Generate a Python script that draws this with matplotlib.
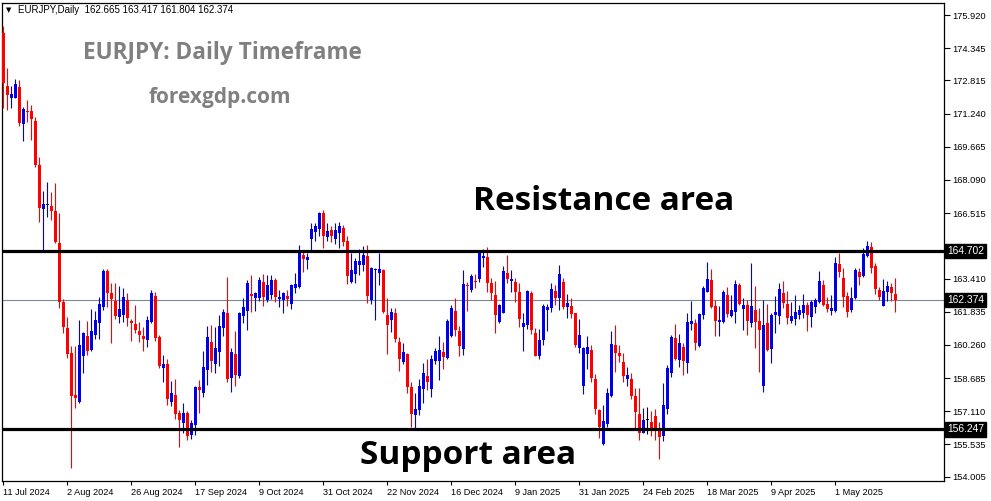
import matplotlib
matplotlib.use("Agg")
import matplotlib.pyplot as plt
import matplotlib.transforms as mtransforms

# EURJPY daily candles (open, high, low, close)
opens = [175.07, 172.55, 171.99, 171.99, 172.49, 170.75, 171.38, 171.38, 170.89, 168.79,
         166.73, 166.90, 166.86, 166.62, 165.08, 162.31, 161.05, 159.89, 157.88, 157.57,
         159.74, 160.69, 160.02, 160.73, 161.31, 162.08, 163.77, 162.74, 162.36, 161.60,
         161.68, 162.40, 161.41, 161.25, 160.92, 160.69, 160.50, 161.36, 162.58, 160.65,
         159.18, 159.36, 157.57, 157.88, 157.02, 156.57, 157.02, 155.99, 156.46, 158.25,
         157.99, 159.07, 160.41, 159.36, 159.94, 161.08, 161.76, 158.68, 159.83, 158.80,
         161.63, 161.87, 162.68, 162.50, 162.47, 163.26, 162.40, 162.63, 163.34, 162.43,
         162.37, 162.59, 162.19, 162.96, 162.99, 164.53, 164.29, 165.29, 165.64, 165.75,
         166.51, 165.40, 165.72, 165.29, 165.56, 165.83, 165.19, 163.26, 163.63, 164.05,
         164.05, 164.48, 162.39, 163.83, 163.69, 163.82, 161.68, 161.44, 161.79, 160.41,
         159.47, 159.83, 158.28, 156.93, 157.17, 158.16, 158.79, 158.17, 159.51, 159.51,
         159.94, 159.63, 160.69, 161.87, 160.94, 160.05, 163.10, 162.87, 163.31, 163.38,
         164.37, 164.42, 163.22, 162.63, 161.36, 161.79, 163.69, 163.29, 163.26, 162.79,
         161.13, 161.21, 162.74, 160.84, 159.74, 160.50, 161.92, 162.03, 162.82, 162.47,
         163.26, 162.08, 162.11, 161.79, 160.13, 158.31, 159.83, 160.02, 158.64, 157.17,
         155.56, 156.51, 157.83, 160.26, 159.89, 159.47, 158.64, 158.64, 157.84, 156.98,
         156.09, 156.71, 156.59, 156.90, 156.30, 155.95, 157.20, 158.94, 160.61, 159.55,
         160.18, 159.42, 161.25, 161.29, 160.21, 161.68, 162.79, 163.34, 162.11, 161.36,
         161.36, 162.63, 161.63, 161.84, 163.10, 161.97, 162.16, 161.32, 161.92, 161.41,
         158.33, 161.29, 160.05, 161.68, 161.65, 162.74, 162.20, 161.41, 161.49, 161.68,
         161.79, 162.16, 161.60, 162.08, 162.31, 163.10, 162.20, 161.89, 161.89, 164.10,
         163.42, 162.59, 161.92, 162.47, 163.74, 163.53, 164.48, 164.89, 164.01, 162.87,
         162.12, 162.76, 163.02, 162.665]
highs = [175.40, 173.40, 172.55, 172.87, 172.84, 171.54, 171.89, 171.65, 171.06, 169.19,
         167.57, 167.98, 167.52, 167.95, 166.51, 162.43, 161.60, 160.21, 160.21, 161.45,
         160.89, 161.41, 161.97, 161.89, 162.55, 163.87, 163.87, 163.21, 163.21, 163.06,
         162.95, 162.71, 161.51, 162.16, 161.33, 161.13, 161.63, 162.87, 162.79, 160.72,
         159.78, 159.59, 158.56, 158.63, 157.17, 157.49, 157.13, 156.70, 158.31, 158.60,
         159.99, 161.16, 161.21, 161.10, 161.68, 161.95, 163.47, 160.10, 160.92, 161.84,
         162.48, 163.34, 163.58, 162.79, 163.47, 163.63, 163.58, 163.58, 163.42, 162.87,
         162.79, 162.87, 163.15, 163.66, 165.00, 164.73, 164.64, 166.06, 166.06, 166.59,
         166.67, 166.06, 165.91, 166.06, 166.11, 165.95, 165.43, 164.64, 164.37, 164.80,
         164.96, 165.00, 163.98, 163.90, 164.64, 163.85, 162.48, 162.00, 162.00, 160.65,
         160.34, 159.89, 158.52, 157.99, 158.64, 159.42, 159.59, 159.78, 160.10, 160.68,
         160.41, 161.48, 162.16, 162.48, 161.16, 163.82, 163.26, 163.63, 163.63, 164.73,
         164.80, 164.92, 163.42, 163.29, 162.20, 164.01, 164.53, 163.82, 163.45, 163.21,
         161.79, 162.87, 162.84, 161.08, 161.00, 162.20, 162.20, 163.21, 163.10, 164.05,
         163.42, 162.68, 162.48, 161.79, 161.49, 160.18, 160.68, 160.26, 158.88, 157.21,
         157.41, 158.20, 160.94, 161.21, 160.26, 159.86, 159.20, 158.94, 158.20, 158.20,
         157.25, 157.33, 157.14, 157.20, 156.60, 158.44, 159.30, 160.73, 161.25, 160.78,
         160.34, 161.76, 162.36, 161.48, 161.79, 163.06, 164.18, 163.85, 162.39, 162.11,
         162.87, 163.02, 162.63, 163.34, 163.21, 162.48, 162.39, 164.17, 163.06, 162.00,
         162.39, 162.20, 161.76, 162.58, 163.19, 163.29, 162.82, 162.31, 162.63, 162.16,
         162.68, 162.31, 162.39, 162.50, 163.77, 163.34, 162.55, 162.63, 164.45, 164.64,
         163.90, 162.79, 162.99, 163.90, 163.90, 164.85, 165.19, 165.16, 164.13, 163.02,
         163.37, 163.29, 163.19, 163.417]
lows = [171.51, 171.41, 171.49, 171.99, 170.65, 169.95, 170.85, 169.99, 168.72, 166.11,
        164.77, 166.32, 166.19, 165.11, 162.00, 160.84, 159.66, 154.41, 157.28, 157.52,
        158.94, 159.78, 159.97, 160.56, 160.54, 161.92, 162.08, 160.37, 161.48, 161.32,
        161.36, 161.16, 160.46, 160.84, 160.42, 159.99, 160.15, 161.29, 160.46, 159.18,
        158.52, 157.41, 157.38, 156.73, 155.43, 156.10, 155.75, 155.78, 155.99, 157.02,
        157.78, 158.36, 158.99, 158.94, 159.26, 160.70, 158.52, 158.04, 158.33, 158.68,
        161.32, 160.97, 161.84, 161.89, 162.35, 162.11, 162.32, 162.45, 162.31, 162.08,
        161.79, 162.11, 161.95, 162.71, 162.95, 163.74, 163.87, 164.73, 165.21, 165.43,
        164.85, 165.21, 165.16, 165.04, 164.88, 164.97, 163.15, 163.21, 163.21, 163.58,
        163.79, 162.26, 162.20, 161.44, 163.10, 161.79, 159.83, 160.89, 160.41, 159.04,
        159.36, 157.99, 156.35, 156.30, 156.93, 157.52, 158.12, 157.80, 159.34, 158.60,
        159.10, 159.60, 160.65, 160.69, 159.74, 159.78, 161.87, 162.79, 162.95, 163.23,
        163.95, 162.76, 162.39, 160.84, 161.29, 161.76, 163.19, 162.79, 162.31, 161.13,
        159.99, 161.00, 160.76, 159.71, 159.60, 160.26, 160.92, 161.84, 162.16, 161.92,
        161.95, 161.52, 161.52, 160.15, 159.89, 157.93, 159.10, 158.52, 156.98, 155.83,
        155.51, 156.38, 157.80, 158.99, 159.47, 158.52, 158.31, 157.68, 156.22, 155.75,
        156.07, 156.03, 155.94, 155.75, 154.85, 155.70, 157.00, 158.72, 159.55, 159.23,
        158.83, 158.94, 160.97, 160.02, 160.15, 161.48, 162.79, 162.03, 160.68, 160.68,
        161.32, 161.60, 161.57, 161.32, 162.15, 160.97, 160.73, 161.10, 160.10, 158.99,
        158.04, 159.99, 159.42, 160.84, 161.25, 162.03, 161.25, 161.32, 161.21, 161.47,
        161.52, 160.92, 161.10, 161.79, 162.27, 162.11, 161.84, 161.68, 161.84, 163.47,
        162.08, 161.57, 161.84, 162.43, 163.10, 163.50, 164.45, 163.69, 162.68, 162.39,
        162.11, 162.36, 162.36, 161.804]
closes = [172.69, 172.13, 172.18, 172.65, 170.81, 171.45, 171.32, 170.98, 168.79, 166.77,
          166.95, 166.95, 166.63, 165.16, 162.31, 161.13, 159.82, 157.85, 157.76, 160.26,
          160.84, 159.99, 160.94, 161.44, 162.20, 163.77, 162.74, 162.44, 161.63, 161.97,
          162.52, 161.56, 161.29, 160.97, 160.73, 160.53, 161.44, 162.71, 160.60, 159.26,
          159.36, 157.70, 157.96, 156.97, 156.70, 157.05, 155.94, 156.57, 158.25, 158.12,
          159.23, 160.65, 159.50, 160.13, 161.16, 161.84, 158.64, 159.91, 158.83, 161.76,
          162.05, 163.19, 162.59, 162.71, 163.34, 162.55, 163.10, 163.34, 162.52, 162.52,
          162.71, 162.45, 163.10, 163.15, 164.69, 164.33, 164.45, 165.76, 165.91, 166.51,
          165.43, 165.67, 165.43, 165.72, 165.91, 165.13, 163.53, 163.82, 164.26, 164.26,
          164.53, 162.59, 163.93, 163.87, 163.87, 161.84, 161.21, 161.84, 160.54, 159.59,
          159.91, 158.28, 156.98, 157.22, 158.31, 158.91, 158.52, 159.59, 159.98, 160.02,
          159.67, 161.41, 161.99, 160.97, 160.21, 163.15, 163.06, 163.53, 163.26, 164.64,
          164.48, 163.22, 162.74, 161.68, 162.16, 163.77, 163.39, 163.37, 162.79, 161.49,
          161.29, 162.84, 160.97, 159.74, 160.50, 162.11, 162.08, 162.90, 162.50, 163.63,
          162.08, 162.24, 161.73, 160.26, 160.73, 160.10, 160.18, 158.68, 157.22, 156.38,
          156.65, 157.97, 160.30, 159.89, 159.74, 158.79, 158.83, 157.85, 157.09, 156.09,
          156.70, 156.71, 156.22, 156.20, 155.90, 157.40, 159.18, 160.65, 159.58, 160.34,
          159.51, 161.36, 161.41, 160.37, 161.73, 162.95, 163.37, 162.08, 161.41, 161.44,
          162.79, 161.73, 161.92, 163.15, 162.20, 162.16, 161.41, 162.11, 161.37, 160.97,
          161.21, 160.02, 161.68, 161.84, 162.90, 162.27, 161.56, 161.63, 161.84, 161.92,
          162.16, 161.68, 162.31, 162.39, 163.31, 162.16, 161.95, 161.99, 164.17, 163.74,
          162.55, 161.84, 162.48, 163.82, 163.50, 164.58, 164.96, 163.93, 162.90, 162.55,
          162.82, 163.06, 162.74, 162.374]

# date labels every 16 bars
date_labels = ["11 Jul 2024", "2 Aug 2024", "26 Aug 2024", "17 Sep 2024", "9 Oct 2024",
               "31 Oct 2024", "22 Nov 2024", "16 Dec 2024", "9 Jan 2025", "31 Jan 2025",
               "24 Feb 2025", "18 Mar 2025", "9 Apr 2025", "1 May 2025"]
# 164.940 sits under the 164.702 tag in the original, so only its tick is kept
price_ticks = [175.920, 174.345, 172.815, 171.240, 169.665, 168.090, 166.515, 164.940,
               163.410, 161.835, 160.260, 158.685, 157.110, 155.535, 154.005]
hidden_tick = 164.940

resistance = 164.702
support = 156.247
bid = 162.374

W, H = 991, 501
fig = plt.figure(figsize=(W / 100, H / 100), dpi=100)
ax = fig.add_axes([2 / W, 20 / H, 942 / W, 478 / H])

n = len(opens)
xs = list(range(n))
up_col = "#0000e6"
dn_col = "#ff0000"
colors = []
for o, c in zip(opens, closes):
    if abs(o - c) < 1e-9:
        colors.append("black")
    elif c > o:
        colors.append(up_col)
    else:
        colors.append(dn_col)

ax.vlines(xs, lows, highs, colors=colors, linewidth=0.8, zorder=3)
bottoms = [min(o, c) for o, c in zip(opens, closes)]
heights = [max(abs(c - o), 0.05) for o, c in zip(opens, closes)]
ax.bar(xs, heights, bottom=bottoms, width=0.75, color=colors, linewidth=0, zorder=4)

# support / resistance and bid line
ax.axhline(resistance, color="black", linewidth=2.3, zorder=5)
ax.axhline(support, color="black", linewidth=2.3, zorder=5)
ax.axhline(bid, color="#778899", linewidth=0.8, zorder=2)

ax.set_xlim((2 - 3.3) / 4, (944 - 3.3) / 4)
ax.set_ylim(153.80, 176.49)

ax.yaxis.tick_right()
ax.set_yticks(price_ticks)
ax.set_yticklabels(["" if p == hidden_tick else f"{p:.3f}" for p in price_ticks])
ax.tick_params(axis="y", direction="out", length=4, width=0.8, pad=2,
               labelsize=6.7, colors="black")

ax.set_xticks([16 * i for i in range(len(date_labels))])
ax.set_xticklabels(date_labels)
for lab in ax.get_xticklabels():
    lab.set_horizontalalignment("left")
ax.tick_params(axis="x", direction="out", length=3, width=0.8, pad=2, labelsize=6.6)
for lab in ax.get_xticklabels() + ax.get_yticklabels():
    lab.set_fontfamily("Liberation Sans")

for s in ax.spines.values():
    s.set_linewidth(0.9)

# price tags on the right axis
trans = mtransforms.blended_transform_factory(ax.transAxes, ax.transData)
for p in [resistance, bid, support]:
    ax.text(1.0 + 3 / 942, p, f"{p:.3f}", transform=trans, ha="left", va="center",
            fontsize=7.4, color="white", family="Liberation Sans", clip_on=False, zorder=10,
            bbox=dict(boxstyle="square,pad=0.2", fc="black", ec="black"))

# header
fig.text(6 / W, 1 - 10 / H, "\u25bc", fontsize=5, va="center", ha="left")
fig.text(18 / W, 1 - 10 / H, "EURJPY,Daily  162.665 163.417 161.804 162.374",
         fontsize=7, va="center", ha="left", family="Liberation Sans")

# annotations
fig.text(222 / W, 1 - 53 / H, "EURJPY: Daily Timeframe", fontsize=16.3, fontweight="bold",
         color="#808080", ha="center", va="center", family="Open Sans")
fig.text(220 / W, 1 - 97 / H, "forexgdp.com", fontsize=15, fontweight="bold",
         color="#808080", ha="center", va="center", family="Open Sans")
fig.text(604 / W, 1 - 202 / H, "Resistance area", fontsize=24, fontweight="bold",
         color="black", ha="center", va="center", family="Open Sans")
fig.text(468 / W, 1 - 456 / H, "Support area", fontsize=24, fontweight="bold",
         color="black", ha="center", va="center", family="Open Sans")

fig.savefig("out.png", dpi=100)
